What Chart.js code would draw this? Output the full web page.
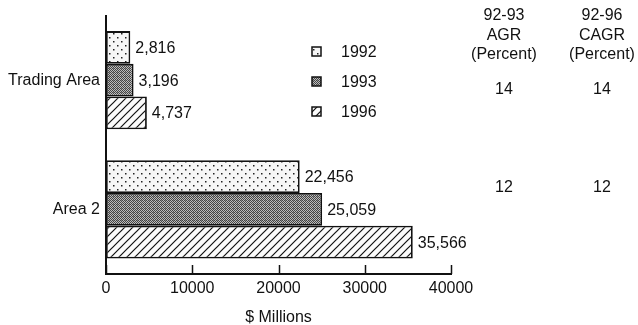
<!DOCTYPE html>
<html>
<head>
<meta charset="utf-8">
<script src="https://cdn.jsdelivr.net/npm/chart.js@4.4.1/dist/chart.umd.min.js"></script>
<style>
  html, body { margin: 0; padding: 0; background: #fff; }
  #wrap { width: 638px; height: 325px; }
</style>
</head>
<body>
<div id="wrap"><canvas id="areaChart"></canvas></div>
<script>
const regions = ["Trading Area", "Area 2"];
const years = ["1992", "1993", "1996"];
const sales1992 = [2816, 22456];
const sales1993 = [3196, 25059];
const sales1996 = [4737, 35566];
const xTicks = [0, 10000, 20000, 30000, 40000];
const agrHeader = ["92-93", "AGR", "(Percent)"];
const cagrHeader = ["92-96", "CAGR", "(Percent)"];
const agr9293 = [14, 12];
const cagr9296 = [14, 12];

const ink = "#111";

// small tiles for the black & white fills
function makePattern(kind) {
    const c = document.createElement("canvas");
    const g = c.getContext("2d");
    if (kind === "dots") {
        c.width = 8; c.height = 8;
        g.fillStyle = "#f6f6f6";
        g.fillRect(0, 0, 8, 8);
        g.fillStyle = "#222";
        g.fillRect(1, 1, 1.5, 1.5);
        g.fillRect(5, 5, 1.5, 1.5);
    } else if (kind === "stipple") {
        c.width = 4; c.height = 4;
        g.fillStyle = "#bdbdbd";
        g.fillRect(0, 0, 4, 4);
        g.fillStyle = "#444";
        g.fillRect(0, 0, 1, 1); g.fillRect(2, 0, 1, 1);
        g.fillRect(1, 1, 1, 1); g.fillRect(3, 1, 1, 1);
        g.fillRect(0, 2, 1, 1); g.fillRect(2, 2, 1, 1);
        g.fillRect(1, 3, 1, 1); g.fillRect(3, 3, 1, 1);
        g.fillStyle = "#888";
        g.fillRect(1, 0, 1, 1);
    } else {
        c.width = 8; c.height = 8;
        g.fillStyle = "#fbfbfb";
        g.fillRect(0, 0, 8, 8);
        g.strokeStyle = "#111";
        g.lineWidth = 1.2;
        g.beginPath();
        g.moveTo(0, 8); g.lineTo(8, 0);
        g.moveTo(-1, 1); g.lineTo(1, -1);
        g.moveTo(7, 9); g.lineTo(9, 7);
        g.stroke();
    }
    return g.createPattern(c, "repeat");
}

const fills = [makePattern("dots"), makePattern("stipple"), makePattern("hatch")];

const valueLabels = {
    id: "valueLabels",
    afterDatasetsDraw(chart) {
        const ctx = chart.ctx;
        ctx.save();
        ctx.font = "16px 'Liberation Sans', Arial, sans-serif";
        ctx.fillStyle = ink;
        ctx.textAlign = "left";
        ctx.textBaseline = "middle";
        chart.data.datasets.forEach((ds, i) => {
            chart.getDatasetMeta(i).data.forEach((bar, j) => {
                ctx.fillText(ds.data[j].toLocaleString("en-US"), bar.x + 5, bar.y + 1);
            });
        });
        ctx.restore();
    }
};

const sideLegend = {
    id: "sideLegend",
    afterDraw(chart) {
        const ctx = chart.ctx;
        ctx.save();
        ctx.font = "16px 'Liberation Sans', Arial, sans-serif";
        ctx.textBaseline = "middle";
        chart.data.datasets.forEach((ds, i) => {
            const y = 52 + i * 30;
            ctx.fillStyle = ds.backgroundColor;
            ctx.fillRect(312, y - 5, 9, 9);
            ctx.strokeStyle = ink;
            ctx.lineWidth = 1.5;
            ctx.strokeRect(312, y - 5, 9, 9);
            ctx.fillStyle = ink;
            ctx.fillText(ds.label, 341, y + 1);
        });
        ctx.restore();
    }
};

const growthTable = {
    id: "growthTable",
    afterDraw(chart) {
        const ctx = chart.ctx;
        ctx.save();
        ctx.font = "16px 'Liberation Sans', Arial, sans-serif";
        ctx.fillStyle = ink;
        ctx.textAlign = "center";
        ctx.textBaseline = "middle";
        const cols = [[504, agrHeader, agr9293], [602, cagrHeader, cagr9296]];
        const rowY = [90, 188];
        cols.forEach(([x, head, vals]) => {
            head.forEach((t, k) => ctx.fillText(t, x, 16 + k * 19.5));
            vals.forEach((v, k) => ctx.fillText(String(v), x, rowY[k]));
        });
        ctx.restore();
    }
};

// tick marks on the x axis point up into the plot
const innerTicks = {
    id: "innerTicks",
    afterDraw(chart) {
        const ctx = chart.ctx;
        const xs = chart.scales.x;
        ctx.save();
        ctx.strokeStyle = ink;
        ctx.lineWidth = 1.5;
        ctx.beginPath();
        xTicks.forEach(v => {
            const px = Math.round(xs.getPixelForValue(v)) + 0.5;
            ctx.moveTo(px, xs.top);
            ctx.lineTo(px, xs.top - 9);
        });
        ctx.stroke();
        ctx.restore();
    }
};

Chart.defaults.font.family = "'Liberation Sans', Arial, sans-serif";
Chart.defaults.font.size = 16;
Chart.defaults.color = ink;

new Chart(document.getElementById("areaChart"), {
    type: "bar",
    data: {
        labels: regions,
        datasets: [sales1992, sales1993, sales1996].map((vals, i) => ({
            label: years[i],
            data: vals,
            backgroundColor: fills[i],
            borderColor: ink,
            borderWidth: 1.8,
            borderSkipped: false,
            categoryPercentage: 0.76,
            barPercentage: 1.0
        }))
    },
    options: {
        indexAxis: "y",
        responsive: true,
        maintainAspectRatio: false,
        animation: false,
        layout: { padding: { top: 4, right: 187, left: 0, bottom: 0 } },
        plugins: {
            legend: { display: false },
            tooltip: { enabled: false }
        },
        scales: {
            x: {
                min: 0,
                max: 40000,
                afterBuildTicks: s => { s.ticks = xTicks.map(v => ({ value: v })); },
                afterFit: s => { s.height = 51; },
                grid: { display: false, drawTicks: false },
                border: { display: true, color: ink, width: 2 },
                ticks: { padding: 5, maxRotation: 0, callback: v => String(v) },
                title: { display: true, text: "$ Millions", padding: { top: 0, bottom: -2 } }
            },
            y: {
                afterFit: s => { s.width = 106; },
                grid: { display: false, drawTicks: false },
                border: { display: true, color: ink, width: 2 },
                ticks: { padding: 6 }
            }
        }
    },
    plugins: [valueLabels, sideLegend, growthTable, innerTicks]
});
</script>
</body>
</html>
